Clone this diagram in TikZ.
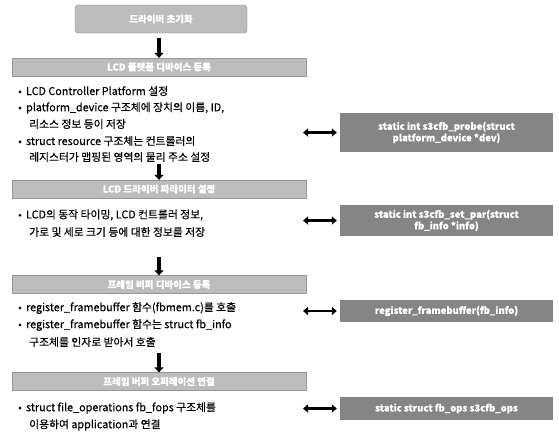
\documentclass[tikz,border=0pt]{standalone}
\usepackage{fontspec}
\setmainfont{Noto Sans CJK KR}[FakeBold=0.4]
\usetikzlibrary{arrows.meta}
\definecolor{hdrgray}{gray}{0.74}
\definecolor{boxgray}{gray}{0.52}
\begin{document}
\begin{tikzpicture}[x=1pt,y=-1pt,
  hdr/.style={fill=hdrgray, draw=hdrgray!80!black, line width=0.3pt, text=white, font=\fontsize{9.5}{11}\selectfont\bfseries, inner sep=0pt, minimum width=294pt, minimum height=18pt},
  topbox/.style={fill=hdrgray, draw=hdrgray!70!black, line width=0.3pt, rounded corners=3pt, text=white, font=\fontsize{9.5}{11}\selectfont\bfseries, minimum width=172pt, minimum height=28pt},
  codebox/.style={fill=boxgray, text=white, font=\fontsize{9.5}{11.5}\selectfont\bfseries, align=center, minimum width=213pt, inner sep=2pt},
  itm/.style={anchor=west, inner sep=0pt, font=\fontsize{10.8}{12}\selectfont},
  downarr/.style={line width=3.6pt, -{Triangle[length=5pt,width=9pt]}},
  duoarr/.style={line width=2.2pt, {Triangle[length=5pt,width=8pt]}-{Triangle[length=5pt,width=8pt]}}
]
\useasboundingbox (0,0) rectangle (559,432);

% top
\node[topbox] (top) at (161,19) {드라이버 초기화};
\node[hdr] (h1) at (159,67) {LCD 플랫폼 디바이스 등록};
\coordinate (d0) at (159,38);
\draw[downarr] (d0) -- (h1.north);

% block 1
\node[itm] (b1a) at (18,91) {•\, LCD Controller Platform 설정};
\node[itm] (b1b) at (18,108) {•\, platform\_device 구조체에 장치의 이름, ID,};
\node[itm] (b1c) at (29,124) {리소스 정보 등이 저장};
\node[itm] (b1d) at (18,141) {•\, struct resource 구조체는 컨트롤러의};
\node[itm] (b1e) at (29,157) {레지스터가 맵핑된 영역의 물리 주소 설정};
\node[codebox, minimum height=39pt] (c1) at (446.5,132.5) {static int s3cfb\_probe(struct\\platform\_device *dev)};
\coordinate (a1) at (303,132.5);
\draw[duoarr] (a1) -- ([xshift=-3pt]c1.west);

\node[hdr] (h2) at (159,189) {LCD 드라이버 파라미터 설정};
\coordinate (d1) at (159,164);
\draw[downarr] (d1) -- (h2.north);

% block 2
\node[itm] (b2a) at (18,215) {•\, LCD의 동작 타이밍, LCD 컨트롤러 정보,};
\node[itm] (b2b) at (29,232) {가로 및 세로 크기 등에 대한 정보를 저장};
\node[codebox, minimum height=31pt] (c2) at (446.5,220.5) {static int s3cfb\_set\_par(struct\\fb\_info *info)};
\coordinate (a2) at (303,220.5);
\draw[duoarr] (a2) -- ([xshift=-3pt]c2.west);

\node[hdr] (h3) at (159,284.5) {프레임 버퍼 디바이스 등록};
\coordinate (d2) at (159,257);
\draw[downarr] (d2) -- (h3.north);

% block 3
\node[itm] (b3a) at (18,308) {•\, register\_framebuffer 함수(fbmem.c)를 호출};
\node[itm] (b3b) at (18,325) {•\, register\_framebuffer 함수는 struct fb\_info};
\node[itm] (b3c) at (29,342) {구조체를 인자로 받아서 호출};
\node[codebox, minimum height=22pt] (c3) at (446.5,311) {register\_framebuffer(fb\_info)};
\coordinate (a3) at (303,311);
\draw[duoarr] (a3) -- ([xshift=-3pt]c3.west);

\node[hdr] (h4) at (159,381.5) {프레임 버퍼 오퍼레이션 연결};
\coordinate (d3) at (159,353);
\draw[downarr] (d3) -- (h4.north);

% block 4
\node[itm] (b4a) at (18,408) {•\, struct file\_operations fb\_fops 구조체를};
\node[itm] (b4b) at (29,425) {이용하여 application과 연결};
\node[codebox, minimum height=23pt] (c4) at (446.5,408.5) {static struct fb\_ops s3cfb\_ops};
\coordinate (a4) at (303,408.5);
\draw[duoarr] (a4) -- ([xshift=-3pt]c4.west);
\end{tikzpicture}
\end{document}
